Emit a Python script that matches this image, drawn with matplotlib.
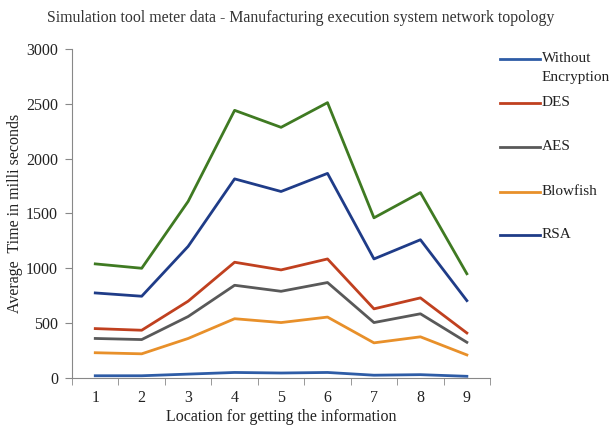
import matplotlib
matplotlib.use("Agg")
import matplotlib.pyplot as plt
from matplotlib.lines import Line2D

plt.rcParams['font.family'] = ['Liberation Serif', 'DejaVu Serif']

locations = ['1', '2', '3', '4', '5', '6', '7', '8', '9']
without_enc = [20, 20, 35, 50, 45, 50, 25, 30, 15]
des = [450, 435, 700, 1055, 985, 1085, 630, 730, 410]
aes = [360, 350, 560, 845, 790, 870, 505, 585, 325]
blowfish = [230, 220, 360, 540, 505, 555, 320, 375, 210]
rsa = [775, 745, 1200, 1815, 1700, 1865, 1085, 1260, 705]
extra = [1040, 1000, 1610, 2440, 2285, 2510, 1460, 1690, 950]

legend_labels = ['Without', 'DES', 'AES', 'Blowfish', 'RSA']

W, H = 613, 429
fig = plt.figure(figsize=(W / 100, H / 100), dpi=100)
ax = fig.add_axes([0.1175, 0.119, 0.682, 0.767])

x = list(range(len(locations)))
lw = 2.0
c_we, c_des, c_aes, c_bf, c_rsa = '#2e5ca6', '#c0401f', '#595959', '#e8902a', '#1f3c88'
ax.plot(x, extra, color='#3f7a22', lw=lw)
ax.plot(x, rsa, color=c_rsa, lw=lw)
ax.plot(x, des, color=c_des, lw=lw)
ax.plot(x, aes, color=c_aes, lw=lw)
ax.plot(x, blowfish, color=c_bf, lw=lw)
ax.plot(x, without_enc, color=c_we, lw=lw)

ax.set_xlim(-0.5, len(locations) - 0.5)
ax.set_ylim(0, 3000)
ax.set_yticks(range(0, 3001, 500))
ax.set_xticks(x)
ax.set_xticklabels(locations)
ax.set_xticks([i - 0.5 for i in range(len(locations) + 1)], minor=True)
ax.tick_params(axis='x', which='major', length=0, labelsize=11.5, pad=9, colors='#222222')
ax.tick_params(axis='x', which='minor', length=5, direction='out', color='#888888')
ax.tick_params(axis='y', length=5, direction='out', labelsize=11.5, pad=5, colors='#222222')
ax.tick_params(axis='y', color='#888888')
for s in ['top', 'right']:
    ax.spines[s].set_visible(False)
for s in ['left', 'bottom']:
    ax.spines[s].set_color('#888888')

ax.set_xlabel('Location for getting the information', fontsize=11.5, color='#222222', labelpad=2)
ax.set_ylabel('Average  Time in milli seconds', fontsize=11.5, color='#222222', labelpad=2)
fig.text(301 / W, 1 - 18 / H, 'Simulation tool meter data - Manufacturing execution system network topology',
         ha='center', va='center', fontsize=11.4, color='#333333')

# manual legend (positions in pixels)
leg_colors = [c_we, c_des, c_aes, c_bf, c_rsa]
leg_y = [59, 103, 147, 192, 235]
for lab, col, yy in zip(legend_labels, leg_colors, leg_y):
    fy = 1 - yy / H
    fig.add_artist(Line2D([500 / W, 540 / W], [fy, fy], color=col, lw=lw, transform=fig.transFigure))
    fig.text(542 / W, fy, lab, ha='left', va='center', fontsize=11, color='#222222')
fig.text(542 / W, 1 - 77 / H, 'Encryption', ha='left', va='center', fontsize=11, color='#222222')

fig.savefig('out.png', dpi=100)
